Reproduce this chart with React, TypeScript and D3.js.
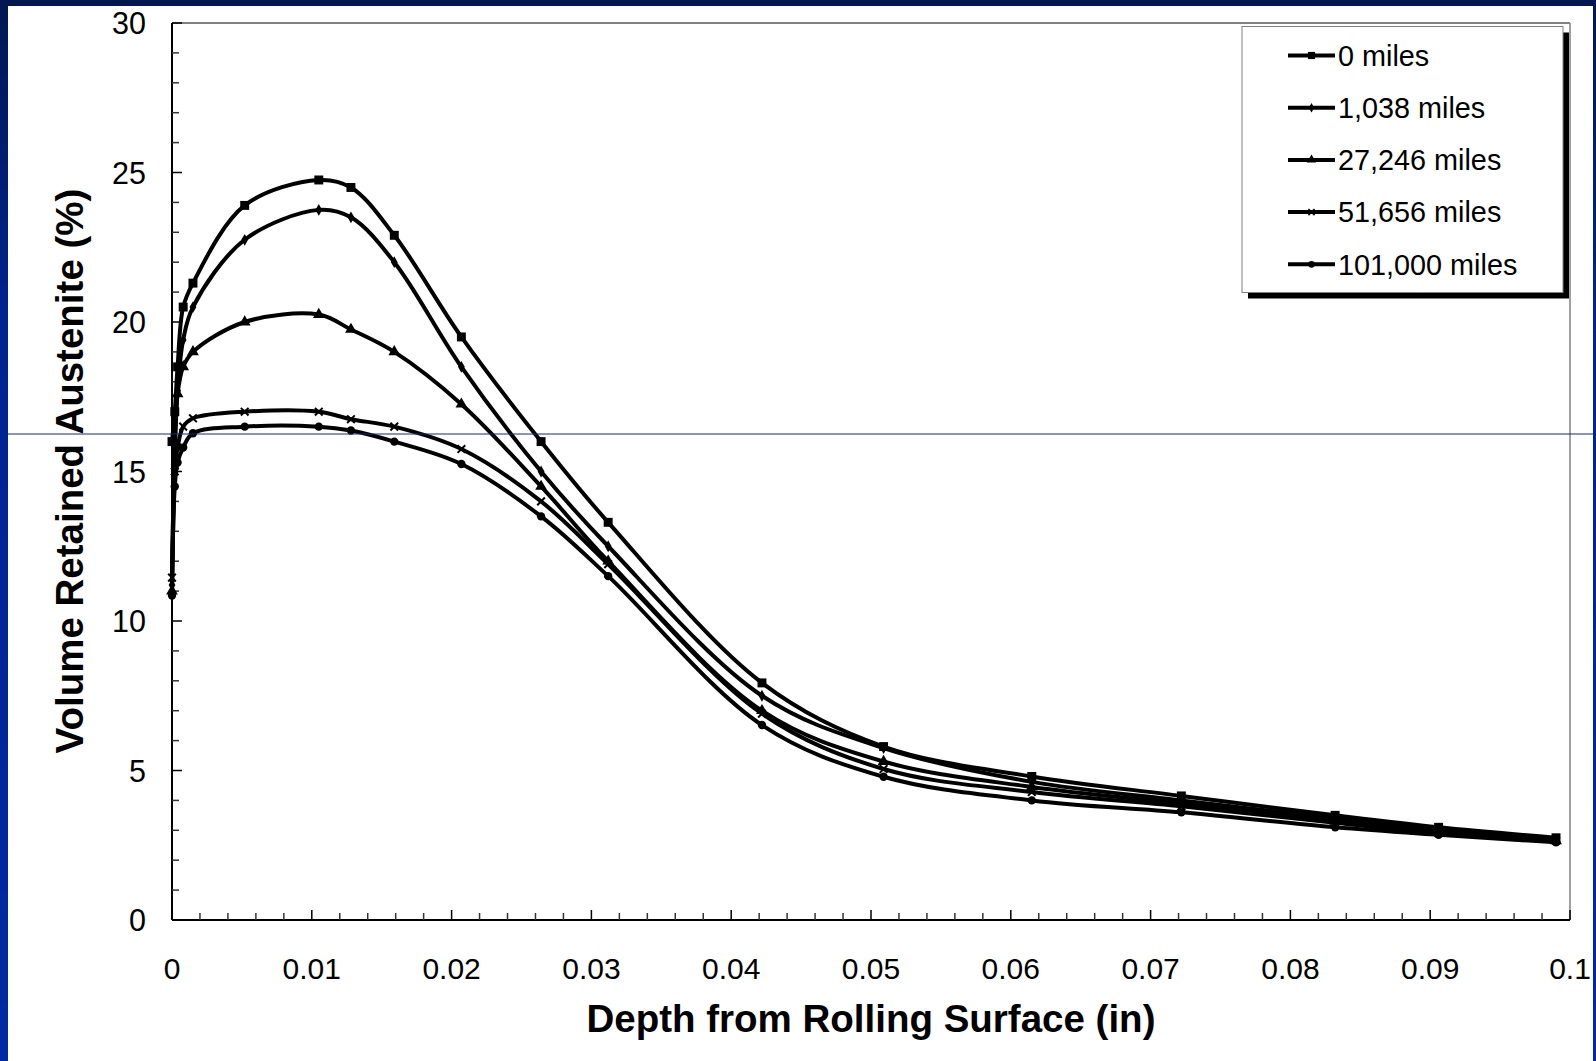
import React from "react";
import * as d3 from "d3";

// ---------- data ----------
const DEPTHS = [0, 0.0002, 0.0004, 0.0008, 0.0015, 0.0052, 0.0105, 0.0128, 0.0159, 0.0207, 0.0264, 0.0312, 0.0422, 0.0509, 0.0615, 0.0722, 0.0832, 0.0906, 0.099];

const MILES_0 = [16.0, 17.0, 18.5, 20.5, 21.3, 23.9, 24.75, 24.5, 22.9, 19.5, 16.0, 13.3, 7.93, 5.8, 4.8, 4.15, 3.5, 3.1, 2.75];
const MILES_1038 = [11.2, 15.5, 17.7, 19.4, 20.5, 22.75, 23.75, 23.5, 22.0, 18.5, 15.0, 12.5, 7.5, 5.75, 4.62, 4.0, 3.4, 3.0, 2.7];
const MILES_27246 = [11.0, 16.0, 17.6, 18.5, 19.0, 20.0, 20.25, 19.75, 19.0, 17.25, 14.5, 12.0, 7.0, 5.3, 4.45, 3.9, 3.3, 2.95, 2.65];
const MILES_51656 = [11.45, 15.0, 15.8, 16.5, 16.78, 17.0, 17.0, 16.75, 16.5, 15.75, 14.0, 11.9, 6.9, 5.05, 4.28, 3.8, 3.25, 2.9, 2.65];
const MILES_101000 = [10.85, 14.5, 15.3, 15.8, 16.28, 16.5, 16.5, 16.37, 16.0, 15.25, 13.5, 11.5, 6.52, 4.79, 4.0, 3.6, 3.1, 2.85, 2.6];

const SERIES_NAMES = ["0 miles", "1,038 miles", "27,246 miles", "51,656 miles", "101,000 miles"];
const SERIES_VALUES = [MILES_0, MILES_1038, MILES_27246, MILES_51656, MILES_101000];
const SERIES_MARKERS = ["square", "diamond", "triangle", "times", "circle"];

const Y_TICKS = [0, 5, 10, 15, 20, 25, 30];
const X_TICKS = [0, 0.01, 0.02, 0.03, 0.04, 0.05, 0.06, 0.07, 0.08, 0.09, 0.1];
const X_TICK_LABELS = ["0", "0.01", "0.02", "0.03", "0.04", "0.05", "0.06", "0.07", "0.08", "0.09", "0.1"];

const X_TITLE = "Depth from Rolling Surface (in)";
const Y_TITLE = "Volume Retained Austenite (%)";

// ---------- layout ----------
const W = 1596;
const H = 1061;
const PL = 172, PR = 1570, PT = 23, PB = 920;
const FONT = "'Liberation Sans', Arial, Helvetica, sans-serif";

function markerPath(kind: string): { d: string; fill: string; stroke: string; sw: number } {
  if (kind === "square") return { d: d3.symbol(d3.symbolSquare, 80)() as string, fill: "#000", stroke: "none", sw: 0 };
  if (kind === "diamond") return { d: d3.symbol(d3.symbolDiamond, 40)() as string, fill: "#000", stroke: "none", sw: 0 };
  if (kind === "triangle") return { d: d3.symbol(d3.symbolTriangle, 60)() as string, fill: "#000", stroke: "none", sw: 0 };
  if (kind === "circle") return { d: d3.symbol(d3.symbolCircle, 55)() as string, fill: "#000", stroke: "none", sw: 0 };
  const sym = (d3 as any).symbolTimes || (d3 as any).symbolX || d3.symbolCross;
  return { d: d3.symbol(sym, 40)() as string, fill: "none", stroke: "#000", sw: 2 };
}

export default function App() {
  const x = d3.scaleLinear().domain([0, 0.1]).range([PL, PR]);
  const y = d3.scaleLinear().domain([0, 30]).range([PB, PT]);

  const line = d3
    .line<[number, number]>()
    .x((d) => x(d[0]))
    .y((d) => y(d[1]))
    .curve(d3.curveCatmullRom.alpha(0.5));

  const yMinor = d3.range(0, 31, 1).filter((v) => v % 5 !== 0);
  const xMinor = d3.range(0, 51, 1).map((i) => i * 0.002).filter((_, i) => i % 5 !== 0);

  const legendX = 1242, legendY = 26.5, legendW = 321, legendH = 266;

  return (
    <svg
      width={W}
      height={H}
      viewBox={`0 0 ${W} ${H}`}
      style={{ position: "absolute", left: 0, top: 0, display: "block" }}
      fontFamily={FONT}
    >
      <defs>
        <linearGradient id="sideGrad" x1="0" y1="0" x2="0" y2="1">
          <stop offset="0" stopColor="#001852" />
          <stop offset="0.3" stopColor="#00238f" />
          <stop offset="1" stopColor="#0029a3" />
        </linearGradient>
      </defs>
      {/* frame */}
      <rect x={0} y={0} width={W} height={H} fill="#ffffff" />
      <rect x={0} y={0} width={8} height={H} fill="url(#sideGrad)" />
      <rect x={1593} y={0} width={3} height={H} fill="url(#sideGrad)" />
      <rect x={0} y={0} width={W} height={6} fill="#001852" />

      {/* plot border */}
      <line x1={PL} y1={PT} x2={PR} y2={PT} stroke="#808080" strokeWidth={2} />
      <line x1={PR} y1={PT} x2={PR} y2={PB} stroke="#808080" strokeWidth={1.5} />

      {/* y axis */}
      <line x1={PL} y1={PT} x2={PL} y2={PB} stroke="#000" strokeWidth={2} />
      {yMinor.map((v) => (
        <line key={"ym" + v} x1={PL} x2={PL + 7} y1={y(v)} y2={y(v)} stroke="#333" strokeWidth={1.5} />
      ))}
      {Y_TICKS.map((v) => (
        <g key={"y" + v}>
          <line x1={PL} x2={PL + 10} y1={y(v)} y2={y(v)} stroke="#000" strokeWidth={1.5} />
          <text x={146} y={y(v) + 11} textAnchor="end" fontSize={30.5} fill="#000">
            {v}
          </text>
        </g>
      ))}

      {/* x axis */}
      <line x1={PL} y1={PB} x2={PR} y2={PB} stroke="#000" strokeWidth={2} />
      {xMinor.map((v, i) => (
        <line key={"xm" + i} x1={x(v)} x2={x(v)} y1={PB} y2={PB - 7} stroke="#333" strokeWidth={1.5} />
      ))}
      {X_TICKS.map((v, i) => (
        <g key={"x" + i}>
          <line x1={x(v)} x2={x(v)} y1={PB} y2={PB - 10} stroke="#000" strokeWidth={1.5} />
          <text x={x(v)} y={979} textAnchor="middle" fontSize={30} fill="#000">
            {X_TICK_LABELS[i]}
          </text>
        </g>
      ))}

      {/* axis titles */}
      <text x={(PL + PR) / 2} y={1032} textAnchor="middle" fontSize={38.5} fontWeight="bold" fill="#000">
        {X_TITLE}
      </text>
      <text
        transform={`translate(83, 471) rotate(-90)`}
        textAnchor="middle"
        fontSize={38.5}
        fontWeight="bold"
        fill="#000"
      >
        {Y_TITLE}
      </text>

      {/* series */}
      {SERIES_VALUES.map((vals, si) => {
        const pts: [number, number][] = DEPTHS.map((d, i) => [d, vals[i]]);
        const m = markerPath(SERIES_MARKERS[si]);
        return (
          <g key={"s" + si}>
            <path d={line(pts) as string} fill="none" stroke="#000" strokeWidth={4} strokeLinejoin="round" />
            {pts.map((p, i) => (
              <path
                key={i}
                d={m.d}
                transform={`translate(${x(p[0])},${y(p[1])})`}
                fill={m.fill}
                stroke={m.stroke}
                strokeWidth={m.sw}
              />
            ))}
          </g>
        );
      })}

      {/* navy slide rule line */}
      <line x1={8} x2={1593} y1={434} y2={434} stroke="#1b2a6b" strokeWidth={1} />

      {/* legend */}
      <rect x={legendX + 6} y={legendY + 6} width={legendW} height={legendH} fill="#000" />
      <rect x={legendX} y={legendY} width={legendW} height={legendH} fill="#fff" stroke="#808080" strokeWidth={1} />
      {SERIES_NAMES.map((name, i) => {
        const cy = 55.5 + i * 52.2;
        const m = markerPath(SERIES_MARKERS[i]);
        return (
          <g key={"l" + i}>
            <line x1={1288} x2={1335} y1={cy} y2={cy} stroke="#000" strokeWidth={4} />
            <path d={m.d} transform={`translate(1311.5,${cy}) scale(0.8)`} fill={m.fill} stroke={m.stroke} strokeWidth={m.sw} />
            <text x={1338} y={cy + 10.3} fontSize={28.8} fill="#000">
              {name}
            </text>
          </g>
        );
      })}
    </svg>
  );
}
